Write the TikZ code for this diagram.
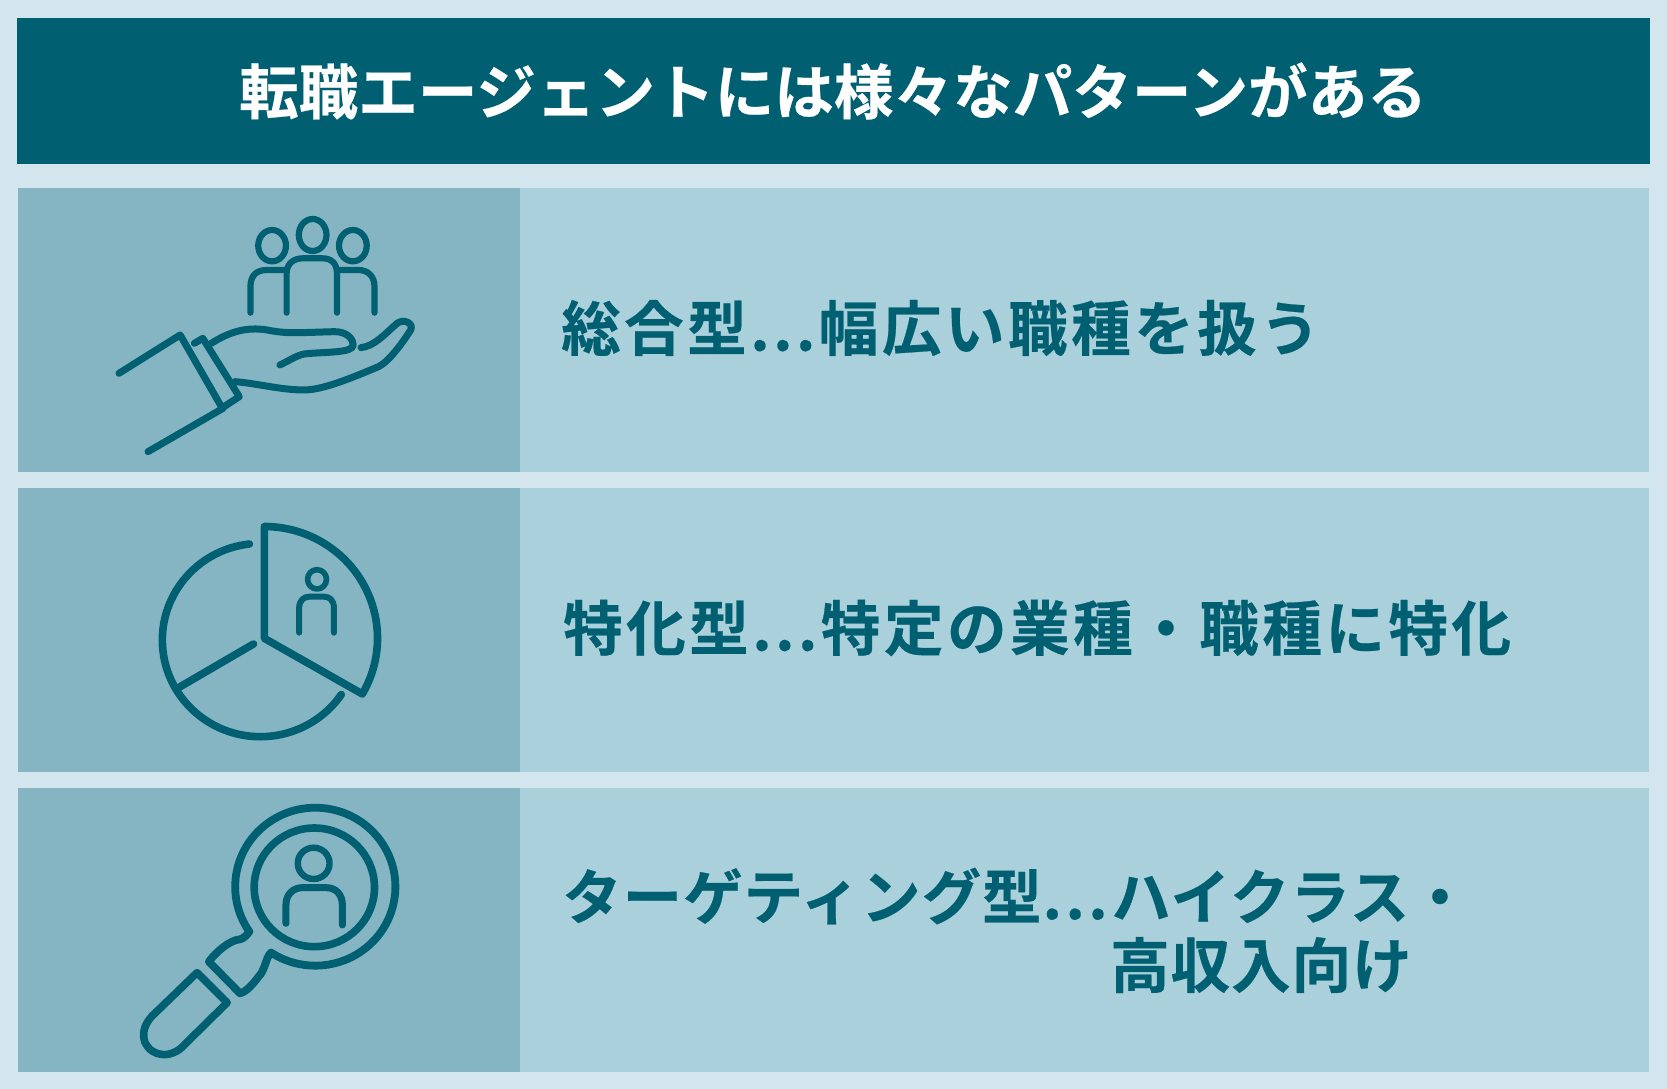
\documentclass[tikz,border=0pt]{standalone}
\usepackage{fontspec}
\newfontfamily\titlefont[FakeBold=0.4]{Noto Sans CJK JP Bold}
\newfontfamily\rowfont[LetterSpace=6,FakeBold=0.4]{Noto Sans CJK JP Bold}
\newfontfamily\rowtightfont[LetterSpace=1.7,FakeBold=0.4]{Noto Sans CJK JP Bold}
\newcommand{\rowdots}{.\kern3.5pt.\kern3.5pt.\kern3.5pt}

\definecolor{pagebg}{HTML}{D4E6ED}
\definecolor{deepteal}{HTML}{005F71}
\definecolor{iconbg}{HTML}{85B5C2}
\definecolor{textbg}{HTML}{AAD1DB}

\tikzset{
  panel/.style={inner sep=0pt, outer sep=0pt, anchor=north west},
  iconpanel/.style={panel, fill=iconbg, minimum width=502pt, minimum height=284pt},
  textpanel/.style={panel, fill=textbg, minimum width=1129pt, minimum height=284pt},
  rowtext/.style={inner sep=0pt, anchor=west, text=deepteal, font=\rowfont\fontsize{59.5}{62}\selectfont},
  rowtight/.style={rowtext, font=\rowtightfont\fontsize{59.5}{62}\selectfont},
  iconline/.style={draw=deepteal, line width=#1pt, line cap=round, line join=round},
  iconline/.default=5
}

\begin{document}
\begin{tikzpicture}[x=1pt,y=-1pt]
\node[panel, fill=pagebg, minimum width=1667pt, minimum height=1089pt] (page) at (0,0) {};
\useasboundingbox (0,0) rectangle (1667,1089);

\node[panel, fill=deepteal, minimum width=1633pt, minimum height=146pt] (header) at (17,18) {};
\node[text=white, inner sep=0pt, font=\titlefont\fontsize{59.6}{62}\selectfont] (title) at (833,91) {転職エージェントには様々なパターンがある};

% rows
\node[iconpanel] (iconA) at (18,188) {};
\node[textpanel] (textA) at (520,188) {};
\node[iconpanel] (iconB) at (18,488) {};
\node[textpanel] (textB) at (520,488) {};
\node[iconpanel] (iconC) at (18,788) {};
\node[textpanel] (textC) at (520,788) {};

\node[rowtext] (labelA) at (561,328) {総合型\rowdots 幅広い職種を扱う};
\node[rowtext] (labelB) at (563,628) {特化型\rowdots 特定の業種・職種に特化};
\node[rowtight] (labelC) at (562,896) {ターゲティング型\rowdots ハイクラス・};
\node[rowtight] (labelD) at (1110,965) {高収入向け};

% hand with people
\begin{scope}[shift={(0pt,-180pt)},x=0.338pt,y=-0.3333pt]
\draw[iconline=6.2] (805,197) ellipse [x radius=41,y radius=47];
\draw[iconline=6.2] (925,165) ellipse [x radius=41,y radius=48];
\draw[iconline=6.2] (1044,197) ellipse [x radius=41,y radius=47];
\draw[iconline=6.2] (741,398) -- (741,320) .. controls (741,285) and (760,270) .. (790,270) -- (848,270);
\draw[iconline=6.2] (848,398) -- (848,280) .. controls (848,250) and (870,235) .. (895,235) -- (955,235) .. controls (980,235) and (997,250) .. (997,280) -- (997,398);
\draw[iconline=6.2] (997,270) -- (1060,270) .. controls (1090,270) and (1108,290) .. (1108,320) -- (1108,398);
\draw[iconline=7] (352,580) -- (533,465) -- (655,680);
\draw[iconline=7] (438,815) -- (660,685);
\draw[iconline=7] (575,490) -- (600,475) -- (708,650) -- (660,682);
\draw[iconline=7] (625,490) .. controls (680,455) and (730,440) .. (790,450) .. controls (850,462) and (880,458) .. (990,455) .. controls (1030,455) and (1045,480) .. (1045,495) .. controls (1045,520) and (960,515) .. (900,522) .. controls (880,525) and (850,545) .. (828,555);
\draw[iconline=7] (695,605) .. controls (760,610) and (830,630) .. (900,630) .. controls (960,630) and (1060,585) .. (1120,560) .. controls (1150,545) and (1190,490) .. (1215,450) .. controls (1225,430) and (1195,415) .. (1175,430) .. controls (1140,460) and (1110,498) .. (1068,503);
\end{scope}

% pie chart
\begin{scope}[shift={(0pt,-480pt)},x=0.338pt,y=-0.3333pt]
\draw[iconline=7.6] (738,192) arc [start angle=-96.4,end angle=-325.7,radius=290];
\draw[iconline=7.6] (782,140) -- (782,475) -- (1072,642) arc [start angle=30,end angle=-90,radius=335] -- cycle;
\draw[iconline=7.6] (750,492) -- (530,622);
\draw[iconline=5.6] (938,298) ellipse [x radius=28,y radius=29];
\draw[iconline=6] (885,458) -- (885,385) .. controls (885,360) and (900,350) .. (915,350) -- (958,350) .. controls (975,350) and (988,360) .. (988,385) -- (988,458);
\end{scope}

% magnifier
\begin{scope}[shift={(0pt,-780pt)},x=0.338pt,y=-0.3333pt]
\draw[iconline=7.8] (738,455) arc [start angle=145.3,end angle=483.6,radius=237] .. controls (785,535) and (785,570) .. (765,590) .. controls (750,610) and (730,635) .. (710,640) -- (618,545) .. controls (640,515) and (680,480) .. (710,478) .. controls (722,475) and (730,465) .. (738,455);
\draw[iconline=7.6] (930,322) circle [radius=178];
\draw[iconline=6.4] (928,250) circle [radius=47];
\draw[iconline=7] (846,430) -- (846,375) .. controls (846,340) and (870,323) .. (895,323) -- (965,323) .. controls (995,323) and (1013,345) .. (1013,375) -- (1013,435);
\draw[iconline=7.6] (583,578) -- (672,668) -- (545,795) .. controls (510,835) and (450,835) .. (428,785) .. controls (418,750) and (435,725) .. (450,708) -- cycle;
\end{scope}
\end{tikzpicture}
\end{document}
